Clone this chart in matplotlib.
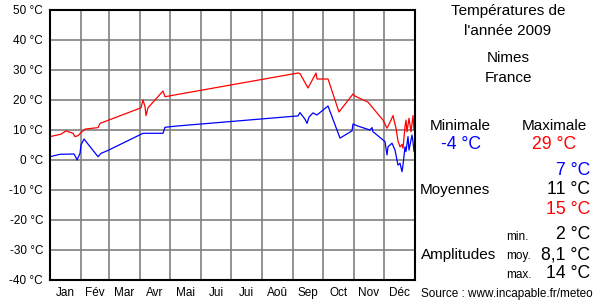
import matplotlib
matplotlib.use("Agg")
import matplotlib.pyplot as plt
import numpy as np

plt.rcParams["font.family"] = ["Liberation Sans", "DejaVu Sans"]

# day of year / temperature (°C)
max_days = [0, 11, 16, 23, 25, 28, 31, 35, 48, 50, 91, 93, 95, 96, 98, 113, 115,
            248, 250, 258, 266, 267, 278, 289, 303, 305, 318, 322, 333, 337, 340,
            343, 346, 348, 350, 352, 353, 355, 356, 357, 359, 361, 363, 364, 365]
max_temps = [7.8, 8.6, 9.7, 8.9, 7.8, 8.1, 9.1, 10.3, 10.8, 12.2, 17.4, 20, 17.8, 14.8, 17.4, 23, 21.1,
             29, 28.8, 24, 29, 27, 27, 16, 22, 21.3, 19.3, 17.7, 13.3, 10.6, 12.6,
             14.8, 10.6, 6.3, 4.4, 5.2, 3.9, 11.1, 13.3, 9.4, 13.9, 9.4, 14.8, 10, 13.9]

min_days = [0, 10, 24, 26, 27, 30, 31, 34, 48, 51, 58, 93, 113, 115, 126,
            248, 250, 255, 257, 259, 263, 267, 278, 290, 302, 303, 308, 320, 322,
            323, 325, 335, 337, 338, 342, 345, 348, 350, 352, 353, 355, 356, 358,
            359, 362, 363, 364, 365]
min_temps = [1.1, 1.9, 2, 0.8, 0, 2.2, 5, 7, 1.1, 2.2, 3.2, 8.9, 8.9, 10.9, 11.3,
             14.7, 15.8, 13.6, 12.2, 14.3, 15.7, 15, 18, 7.3, 9.7, 12, 11.3, 10, 10.8,
             9.4, 8.9, 6.1, 1.7, 4.4, 5.6, 3.3, -1.7, -1.1, -3.9, -1.7, 4.4, 2.8, 7.8,
             3.3, 8.3, 6.1, 2.8, 6.1]

months = ["Jan", "Fév", "Mar", "Avr", "Mai", "Jui", "Jui", "Aoû", "Sep", "Oct", "Nov", "Déc"]
month_len = [31, 28, 31, 30, 31, 30, 31, 31, 30, 31, 30, 31]
y_ticks = list(range(-40, 51, 10))

fig = plt.figure(figsize=(6, 3), dpi=100)
ax = fig.add_axes([50 / 600, 20 / 300, 365 / 600, 270 / 300])

ax.plot(max_days, max_temps, color="#ff0000", lw=0.9, zorder=3)
ax.plot(min_days, min_temps, color="#0000ff", lw=0.9, zorder=3)

bounds = np.concatenate([[0], np.cumsum(month_len)])
mids = (bounds[:-1] + bounds[1:]) / 2
ax.set_xlim(0, 365)
ax.set_ylim(-40, 50)
ax.set_xticks(bounds[1:-1])
ax.set_xticklabels([])
ax.set_xticks(mids, minor=True)
ax.set_xticklabels(months, minor=True, fontsize=8.5)
ax.set_yticks(y_ticks)
ax.set_yticklabels([f"{v} °C" for v in y_ticks], fontsize=8.5)
ax.tick_params(which="both", length=0)
ax.tick_params(axis="x", which="minor", pad=5)
ax.tick_params(axis="y", pad=5)
ax.grid(True, which="major", color="#808080", lw=1.2)
for s in ax.spines.values():
    s.set_color("black")
    s.set_linewidth(1.5)
    s.set_zorder(4)


def px(x, y):
    return x / 600, 1 - y / 300


def put(x, y, s, ha="center", size=11, color="black"):
    fig.text(*px(x, y), s, ha=ha, va="baseline", fontsize=size, color=color)


put(508, 15, "Températures de")
put(508, 35, "l'année 2009")
put(508, 62, "Nimes")
put(508, 82, "France")
put(460, 130, "Minimale")
put(554, 130, "Maximale")
put(461, 149, "-4 °C", size=12.7, color="#0000ff")
put(554, 149, "29 °C", size=12.7, color="#ff0000")
put(590, 175, "7 °C", ha="right", size=12.7, color="#0000ff")
put(420, 194, "Moyennes", ha="left")
put(590, 194, "11 °C", ha="right", size=12.7)
put(590, 214, "15 °C", ha="right", size=12.7, color="#ff0000")
put(506, 240, "min.", ha="left", size=8.5)
put(590, 239, "2 °C", ha="right", size=12.7)
put(421, 259, "Amplitudes", ha="left")
put(506, 259, "moy.", ha="left", size=8.5)
put(590, 259, "8,1 °C", ha="right", size=12.7)
put(506, 278, "max.", ha="left", size=8.5)
put(590, 278, "14 °C", ha="right", size=12.7)
put(421, 297, "Source : www.incapable.fr/meteo", ha="left", size=8.5)

fig.savefig("out.png", dpi=100)
